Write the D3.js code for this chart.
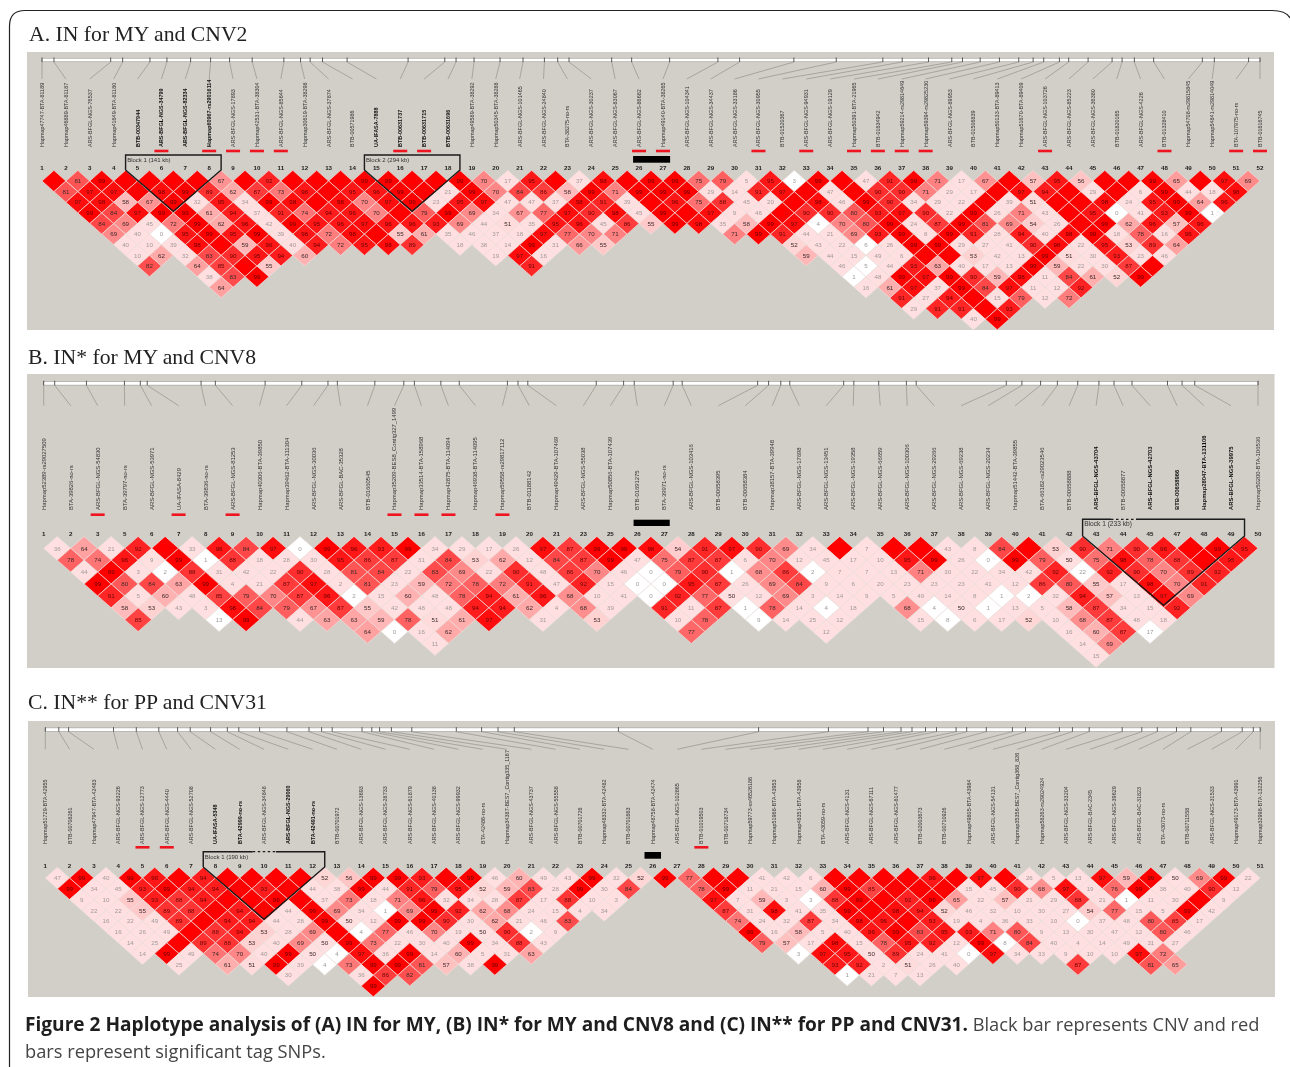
<!DOCTYPE html>
<html><head><meta charset="utf-8">
<script src="https://cdn.jsdelivr.net/npm/d3@7/dist/d3.min.js"></script>
<style>html,body{margin:0;padding:0;background:#fff}svg{display:block}</style>
</head><body><svg id="c" width="1290" height="1067"></svg>
<script>
// Cell tokens: number = D' x 100, X = D' of 1 (no label), n suffix = LOD below 2, ~k = k cells not drawn
const ldA = [
"X 81 99 X X X X 67 X 92 X X X 99 99 X X 99 70 17 95 X 37 98 X 99 99 75 79 5 95 3n 99 X 47 91 99 71 17 67 X 57 95 56 X X 99 65 X 97 69",
"81 97 97 X 98 99 89 62 87 73 96 X 95 96 99 X 21 99 70 84 86 58 99 71 99 99 99 29 14 91 97 X 47 X 90 90 71 29 17 X 97 94 X 29 X 6 99 44 18 98",
"97 98 58 67 99 32 95 34 99 98 X 98 70 97 99 23 95 97 47 47 37 98 91 39 X 96 75 88 45 20 X 98 46 99 90 34 29 22 X 39 51 X X 98 24 95 99 64 96",
"99 84 97 99 99 61 94 37 91 74 94 96 70 X 79 99 69 34 67 77 97 90 98 45 99 X 97 9 46 X 90 90 80 93 97 90 22 99 26 71 43 X 95 0n 41 93 99 1n",
"84 69 45 72 99 62 96 42 99 95 96 97 96 96 93 69 44 51 35 95 96 45 86 55 99 98 35 58 99 97 4n 70 80 99 24 87 99 81 69 54 26 X 99 62 96 57 96",
"69 40 0n 95 99 95 99 39 96 72 98 X 55 61 35 46 37 18 97 77 70 71 ~4 71 99 91 44 21 69 93 99 8 99 91 28 94 40 98 99 18 78 16 96",
"40 10 39 98 X 59 96 40 94 72 95 98 89 ~1 18 38 14 99 31 66 55 ~7 52 43 22 6n 26 99 99 29 27 41 90 98 22 95 53 89 64",
"10 62 32 83 90 95 94 60 ~7 19 97 16 ~10 59 44 15 49 6 X X 53 42 13 99 51 30 93 23 46",
"82 ~1 64 85 X 55 ~10 91 ~12 46 5n 44 93 63 40 17 13 99 59 22 30 87 X",
"~2 38 83 99 ~24 1n 48 99 97 99 90 59 98 11 84 61 52 99",
"~2 64 ~26 16 61 97 37 99 84 97 11 12 92",
"~30 91 27 94 X 15 79 12 72",
"~30 29 91 91 X 93",
"~32 40 99"];
const ldB = [
"36 64 21 92 X 33 96 84 97 0n 99 96 93 99 34 29 17 26 97 87 99 99 98 54 91 97 90 69 34 X 7 X X 43 8 84 X 53 90 71 90 96 X 99 95",
"78 74 96 9 99 1n 88 18 28 30 95 86 87 31 84 53 62 12 84 87 99 47 75 87 87 6 70 12 45 17 10 95 99 26 0n 99 79 50 75 98 78 88 X 95",
"44 99 3 2n 88 31 42 22 90 28 81 84 22 83 69 22 90 48 86 70 46 0n 79 90 1n 68 86 2n 7 7 13 71 30 22 34 42 92 22n 92 90 70 89 92",
"99 80 84 63 99 4 21 87 97 2 81 23 59 72 78 72 91 47 92 15 0n 0n 95 87 26 69 84 9 6 20 23 23 23 41 12 86 80 55 17 98 70 91",
"91 5 60 48 85 79 70 87 96 2n 15 60 48 78 94 61 96 68 10 41 0n 92 77 50 12 69 3 14 9 5 49 14 8 1n 2n 32 94 57 13 97 69",
"58 53 43 3 98 84 79 67 87 55 42 48 48 94 94 62 4 68 39 ~1 91 11 87 1n 78 14 4n 18 ~1 68 4n 50 1n 13 5 58 87 34 15 92",
"85 ~2 13n 99 ~1 44 63 63 59 78 51 61 97 ~1 31 ~1 53 ~2 10 78 ~1 9n 14 25 12 ~2 15 8n 6 17 52 10 68 87 48 18",
"~8 64 0n 16 62 ~8 77 ~4 12 ~8 16 60 87 17n",
"~10 11 ~23 14 69",
"~34 15"];
const ldC = [
"47 99 40 99 96 X 94 X X X X 52 56 99 99 93 X 99 46 60 49 43 99 32 52 99 77 X X 41 42 6 X X X X 96 X 97 X 26 5 13 97 59 99 50 69 99 22",
"99 34 45 93 99 94 94 X 93 X 44 38 99 44 91 79 95 52 59 83 28 99 30 84 ~2 78 99 11 21 15 60 99 85 X X X 15 45 90 68 97 19 76 99 38 40 90 12",
"9 10 55 93 88 94 X X 99 X 37 73 18 71 96 32 34 28 87 17 88 10 3 ~3 97 7 59 3 3n 88 99 X 92 99 65 22 57 21 29 88 21 1n 11 30 X 9",
"22 22 55 89 88 X 94 X 44 99 69 34 1n 69 99 92 62 68 24 15 4 34 ~4 87 31 98 41 35 99 X 98 94 52 46 32 10 30 27 54 77 15 5 99 42",
"16 22 49 89 X 94 94 44 28 99 50 12 99 99 90 30 62 21 46 83 ~6 74 24 32 87 34 98 96 X 93 19 4 36 33 10 0n 37 48 80 85 17",
"16 26 49 X 88 94 53 28 69 X 4n 77 46 70 19 50 90 2n 9 ~7 99 16 58 5 40 96 99 83 95 93 71 80 9 13 30 47 12 80 46",
"14 25 X 89 88 53 40 69 50 99 73 22 30 40 99 34 88 43 ~8 79 57 17 98 15 78 95 92 12 99 8n 84 40 4 14 49 31 27",
"14 99 49 74 70 40 99 50 4n 97 36 99 14 60 5 31 63 ~10 3n 97 95 50 89 24 41 0n 97 34 33 9 10 10 97 72",
"~1 25 ~1 61 51 99 39 4n 73 99 99 81 57 38 99 ~13 93 92 2 51 26 40 ~4 87 ~2 81 65",
"~5 30 ~2 36 86 82 ~17 1n 21 7 13",
"~8 99"];

const snpsA = ["Hapmap47747-BTA-81189","Hapmap46889-BTA-81187","ARS-BFGL-NGS-76537","Hapmap41649-BTA-81180","BTB-00347944","ARS-BFGL-NGS-34799","ARS-BFGL-NGS-82334","Hapmap60967-rs29016114","ARS-BFGL-NGS-17893","Hapmap42531-BTA-38304","ARS-BFGL-NGS-85644","Hapmap30619-BTA-38298","ARS-BFGL-NGS-37874","BTB-00571986","UA-IFASA-7888","BTB-00631737","BTB-00631715","BTB-00631696","Hapmap49589-BTA-38292","Hapmap50345-BTA-38288","ARS-BFGL-NGS-101465","ARS-BFGL-NGS-24840","BTA-38275-no-rs","ARS-BFGL-NGS-30237","ARS-BFGL-NGS-83067","ARS-BFGL-NGS-86682","Hapmap49140-BTA-38265","ARS-BFGL-NGS-104341","ARS-BFGL-NGS-34437","ARS-BFGL-NGS-33186","ARS-BFGL-NGS-30955","BTB-01520367","ARS-BFGL-NGS-94931","ARS-BFGL-NGS-19129","Hapmap50391-BTA-21965","BTB-01634942","Hapmap59214-rs29814649","Hapmap59394-rs29825230","ARS-BFGL-NGS-89953","BTB-01506839","Hapmap50133-BTA-89413","Hapmap51670-BTA-89409","ARS-BFGL-NGS-103726","ARS-BFGL-NGS-85223","ARS-BFGL-NGS-36380","BTB-01820165","ARS-BFGL-NGS-4226","BTB-01328410","Hapmap54708-rs29815845","Hapmap54841-rs29814049","BTA-107975-no-rs","BTB-01616745"];
const snpsB = ["Hapmap52389-rs29027509","BTA-39826-no-rs","ARS-BFGL-NGS-54830","BTA-39797-no-rs","ARS-BFGL-NGS-53971","UA-IFASA-8429","BTA-39836-no-rs","ARS-BFGL-NGS-81253","Hapmap40306-BTA-39850","Hapmap39462-BTA-111304","ARS-BFGL-NGS-30036","ARS-BFGL-BAC-35328","BTB-01660545","Hapmap35209-BES8_Contig327_1499","Hapmap33514-BTA-158968","Hapmap42875-BTA-114094","Hapmap46938-BTA-114095","Hapmap59558-rs29817112","BTB-01188142","Hapmap49429-BTA-107469","ARS-BFGL-NGS-55038","Hapmap50856-BTA-107439","BTB-01691275","BTA-39971-no-rs","ARS-BFGL-NGS-103416","BTB-00658395","BTB-00658384","Hapmap38157-BTA-39948","ARS-BFGL-NGS-17698","ARS-BFGL-NGS-13451","ARS-BFGL-NGS-19358","ARS-BFGL-NGS-66659","ARS-BFGL-NGS-100306","ARS-BFGL-NGS-29266","ARS-BFGL-NGS-69238","ARS-BFGL-NGS-20234","Hapmap51442-BTA-39855","BTA-66182-rs29023546","BTB-00658888","ARS-BFGL-NGS-43704","BTB-00658877","ARS-BFGL-NGS-42703","BTB-00658966","Hapmap28047-BTA-131106","ARS-BFGL-NGS-39975","Hapmap50200-BTA-106536"];
const snpsC = ["Hapmap51729-BTA-42955","BTB-00708261","Hapmap47947-BTA-42483","ARS-BFGL-NGS-93226","ARS-BFGL-NGS-12773","ARS-BFGL-NGS-4440","ARS-BFGL-NGS-52708","UA-IFASA-5348","BTA-42999-no-rs","ARS-BFGL-NGS-34848","ARS-BFGL-NGS-29060","BTA-42491-no-rs","BTB-00701972","ARS-BFGL-NGS-13693","ARS-BFGL-NGS-28733","ARS-BFGL-NGS-61879","ARS-BFGL-NGS-40138","ARS-BFGL-NGS-99932","BTA-42486-no-rs","Hapmap34387-BES7_Contig335_1167","ARS-BFGL-NGS-43737","ARS-BFGL-NGS-55558","BTB-00701726","Hapmap48332-BTA-42482","BTB-00701663","Hapmap48758-BTA-42474","ARS-BFGL-NGS-102865","BTB-01019503","BTB-00718734","Hapmap59773-ss46526186","Hapmap51968-BTA-43953","Hapmap48351-BTA-43958","BTA-43059-no-rs","ARS-BFGL-NGS-4131","ARS-BFGL-NGS-67111","ARS-BFGL-NGS-81477","BTB-02003673","BTB-00710926","Hapmap49805-BTA-43984","ARS-BFGL-NGS-54131","Hapmap35356-BES7_Contig368_826","Hapmap58263-rs29024924","ARS-BFGL-NGS-33204","ARS-BFGL-BAC-2345","ARS-BFGL-NGS-39629","ARS-BFGL-BAC-31823","BTA-43073-no-rs","BTB-00711558","ARS-BFGL-NGS-31533","Hapmap49173-BTA-43991","Hapmap32998-BTA-132256"];

const numbersA = d3.range(1,53);
const numbersB = [1,2,3,5,6,7,8,9,10,11,12,13,14,15,16,17,18,19,20,21,23,25,26,27,28,29,30,31,32,33,34,35,36,37,38,39,40,41,42,43,44,45,47,48,49,50];
const numbersC = d3.range(1,52);

// map positions of the markers along each ruler (relative map units)
const mapA = [0,12,68.7,80.7,108,125,148.7,168.7,187.7,210.3,242,258.7,268.3,280.7,305.3,366.3,403,414.3,432.3,458.3,481.3,502.7,516,527.3,570,590,628,676.3,698,752.3,794.7,841.3,860.7,887,910.3,921,938.7,958,977.3,991.7,1002.3,1018,1027.3,1046.7,1070.7,1080.7,1093,1112.3,1161,1173,1207.3,1218.7];
const mapB = [0,11,42.8,80.8,96.7,103.6,157.5,171.8,221.6,258.3,284.5,293.9,331.4,360.4,371,397.5,415.9,464.1,474.7,484.5,553,580.4,591,630,639,714.5,725.5,737.7,746.7,800.6,810.8,835.7,863.4,873.2,963.4,979,997.7,1014.5,1034.9,1056.1,1071.2,1089.2,1124.7,1139.3,1152,1215.3];
const mapC = [0,13.5,23.3,68.2,91,113.5,132.3,144.9,165.3,182,193.5,214.3,241.6,263.7,276.3,286.9,316.7,326.5,334.3,346.1,366.5,411,436.3,452.7,469,573.1,713.3,783.1,822.7,838.2,855.7,866.7,880.2,891.2,910.8,921.4,941,967.1,980.2,1014.1,1027.1,1043.9,1076.9,1096.5,1112,1131.2,1145.5,1176.1,1196.9,1208,1214.9];

const tagA = [5,7,8,9,10,15,16,25,26,30,32,34,35,36,37,42,47,50,51];
const tagB = [2,5,7,13,14,15,17];
const tagC = [4,5,27];
const cnvA = [24.75,26.3], cnvB = [21.86,23.2], cnvC = [24.66,25.34];
const blockTextA = ["Block 1 (141 kb)","Block 2 (294 kb)"], blockTextB = ["Block 1 (233 kb)"], blockTextC = ["Block 1 (190 kb)"];
const blocksA = [[4,7],[14,17]], blocksB = [[39,44]], blocksC = [[7,11]];
const boldA = [4,5,6,7,14,15,16,17], boldB = [39,41,42,43,44], boldC = [7,8,10,11];
const titles = ["A. IN for MY and CNV2","B. IN* for MY and CNV8","C. IN** for PP and CNV31"];

const panels = [
 {title:titles[0],ld:ldA,snps:snpsA,nums:numbersA,map:mapA,tag:tagA,cnv:cnvA,blocks:blocksA,blockText:blockTextA,bold:boldA,gaps:[],
  bg:[27,52,1274,330],x:[42,1260],y0:181,dy:10.63,ruler:60,lineEnd:79,labelBase:147,tagY:151,cnvY:[156,162.7],numY:167.7,blockTop:155,blockSide:170,titleY:41,titleX:29,fs:5.45,bfs:6},
 {title:titles[1],ld:ldB,snps:snpsB,nums:numbersB,map:mapB,tag:tagB,cnv:cnvB,blocks:blocksB,blockText:blockTextB,bold:boldB,gaps:[[1111,1136]],
  bg:[27,374,1274.5,668],x:[43.7,1258],y0:548.3,dy:11.9,ruler:383.3,lineEnd:405.7,labelBase:510,tagY:514.7,cnvY:[519.7,526],numY:534,blockTop:519.3,blockSide:536,titleY:364,titleX:28,fs:5.9,bfs:6.6},
 {title:titles[2],ld:ldC,snps:snpsC,nums:numbersC,map:mapC,tag:tagC,cnv:cnvC,blocks:blocksC,blockText:blockTextC,bold:boldC,gaps:[[252.7,276]],
  bg:[28,721,1275,997],x:[45.3,1260.2],y0:878,dy:10.8,ruler:729.7,lineEnd:749.3,labelBase:844,tagY:847.3,cnvY:[852,858.7],numY:865.3,blockTop:851.7,blockSide:867,titleY:709,titleX:28,fs:5.45,bfs:6}
];

function parseRows(rows){
  const cells=[];
  rows.forEach((s,r)=>{let i=0;s.trim().split(/\s+/).forEach(t=>{
    if(t[0]==='~'){i+=+t.slice(1);return;}
    const solid=t==='X',low=t.endsWith('n');
    cells.push({r,i,v:solid?100:parseFloat(t),solid,low});i++;});});
  return cells;
}
function cellColor(d){
  if(d.low) return '#ffffff';
  const g=Math.round(Math.min(223,446*(1-d.v/100)));
  return d3.rgb(255,g,g).formatHex();
}
function textColor(d){
  if(d.v<50) return '#a09a9a';
  if(d.v>=85) return '#660505';
  return '#3a2a2a';
}

const svg=d3.select('#c');
const defs=svg.append('defs');
defs.append('filter').attr('id','soft').attr('x','-2%').attr('y','-2%').attr('width','104%').attr('height','104%')
  .append('feGaussianBlur').attr('stdDeviation',0.28);

svg.append('path').attr('fill','none').attr('stroke','#222').attr('stroke-width',1.2)
  .attr('d','M9.5,1067 V26 Q9.5,10.5 25,10.5 H1272 Q1286,10.5 1290,18');

panels.forEach(p=>{
  const n=p.snps.length;
  const x=d3.scaleLinear().domain([0,n-1]).range(p.x);
  const y=d3.scaleLinear().domain([0,1]).range([p.y0,p.y0+p.dy]);
  const mapX=d3.scaleLinear().domain([0,d3.max(p.map)]).range(p.x);
  const hw=x(.5)-x(0),hh=p.dy;
  const g=svg.append('g');
  svg.append('text').attr('x',p.titleX).attr('y',p.titleY).text(p.title)
    .attr('font-family','Liberation Serif').attr('font-size',21.7).attr('fill','#222');
  g.append('rect').attr('x',p.bg[0]).attr('y',p.bg[1]).attr('width',p.bg[2]-p.bg[0]).attr('height',p.bg[3]-p.bg[1]).attr('fill','#d2cfc8');

  const soft=g.append('g').attr('filter','url(#soft)');
  soft.append('rect').attr('x',p.x[0]).attr('y',p.ruler-1.8).attr('width',p.x[1]-p.x[0]).attr('height',3.6).attr('fill','#fff').attr('stroke','#8d8a86').attr('stroke-width',.5);
  soft.append('g').selectAll('line.t').data(p.map).join('line')
    .attr('x1',d=>mapX(d)).attr('x2',d=>mapX(d)).attr('y1',p.ruler-2.5).attr('y2',p.ruler+2)
    .attr('stroke','#333').attr('stroke-width',.8);
  soft.append('g').selectAll('line.c').data(p.map).join('line')
    .attr('x1',d=>mapX(d)).attr('x2',(d,i)=>x(i)).attr('y1',p.ruler+2).attr('y2',p.lineEnd)
    .attr('stroke','#8a8884').attr('stroke-width',.6);
  soft.append('g').selectAll('text').data(p.snps).join('text')
    .attr('transform',(d,i)=>`translate(${x(i)+2},${p.labelBase}) rotate(-90)`)
    .text(d=>d).attr('font-family','Liberation Sans').attr('font-size',p.fs)
    .attr('font-weight',(d,i)=>p.bold.includes(i)?700:400).attr('fill',(d,i)=>p.bold.includes(i)?'#111':'#333');
  g.append('g').selectAll('rect').data(p.tag).join('rect')
    .attr('x',d=>x(d)-7).attr('y',p.tagY-1.3).attr('width',14).attr('height',2.6).attr('fill','#ee1520');
  g.append('rect').attr('x',x(p.cnv[0])).attr('width',x(p.cnv[1])-x(p.cnv[0])).attr('y',p.cnvY[0]).attr('height',p.cnvY[1]-p.cnvY[0]).attr('fill','#000');
  soft.append('g').selectAll('text').data(p.nums).join('text')
    .attr('x',(d,i)=>x(i)).attr('y',p.numY+2.3).attr('text-anchor','middle').text(d=>d)
    .attr('font-family','Liberation Sans').attr('font-weight',700).attr('font-size',6.2).attr('fill','#222');
  const cells=parseRows(p.ld);
  const cg=soft.append('g').selectAll('g').data(cells).join('g')
    .attr('transform',d=>`translate(${x(d.i+(d.r+1)/2)},${y(d.r)})`);
  cg.append('path').attr('d',`M0,${-hh}L${hw},0L0,${hh}L${-hw},0Z`)
    .attr('fill',cellColor).attr('stroke','#eadfdc').attr('stroke-width',.7);
  cg.filter(d=>!d.solid).append('text').attr('text-anchor','middle').attr('y',2.2).text(d=>d.v)
    .attr('font-family','Liberation Sans').attr('font-size',6.2).attr('fill',textColor);
  p.blocks.forEach((b,k)=>{
    const l=x(b[0]-.5),r=x(b[1]+.5),m=(l+r)/2;
    const apexY=p.blockSide+(m-l)/hw*hh*.97;
    const gp=p.gaps[k];
    let top=`M${l},${p.blockSide}V${p.blockTop}`;
    if(gp) top+=`H${gp[0]}M${gp[1]},${p.blockTop}H${r}`; else top+=`H${r}`;
    soft.append('path').attr('fill','none').attr('stroke','#1a1a1a').attr('stroke-width',1.4)
      .attr('d',`${top}V${p.blockSide}L${m},${apexY}L${l},${p.blockSide}`);
    if(gp) soft.append('line').attr('x1',gp[0]).attr('x2',gp[1]).attr('y1',p.blockTop).attr('y2',p.blockTop)
      .attr('stroke','#1a1a1a').attr('stroke-width',1.2).attr('stroke-dasharray','2.5 2.5');
    soft.append('text').attr('x',l+1.6).attr('y',p.blockTop+7).text(p.blockText[k])
      .attr('font-family','Liberation Sans').attr('font-size',p.bfs).attr('fill','#333');
  });
});

const capFont='Open Sans';
const cap=svg.append('text').attr('x',25).attr('y',1031).attr('font-family',capFont);
cap.append('tspan').attr('font-weight',700).attr('font-size',19.1).attr('fill','#1e1e1e').text('Figure 2 Haplotype analysis of (A) IN for MY, (B) IN* for MY and CNV8 and (C) IN** for PP and CNV31.');
cap.append('tspan').attr('font-size',18.25).attr('fill','#444').text(' Black bar represents CNV and red');
svg.append('text').attr('x',25).attr('y',1058).attr('font-family',capFont).attr('font-size',18.25).attr('fill','#444').text('bars represent significant tag SNPs.');
</script></body></html>
